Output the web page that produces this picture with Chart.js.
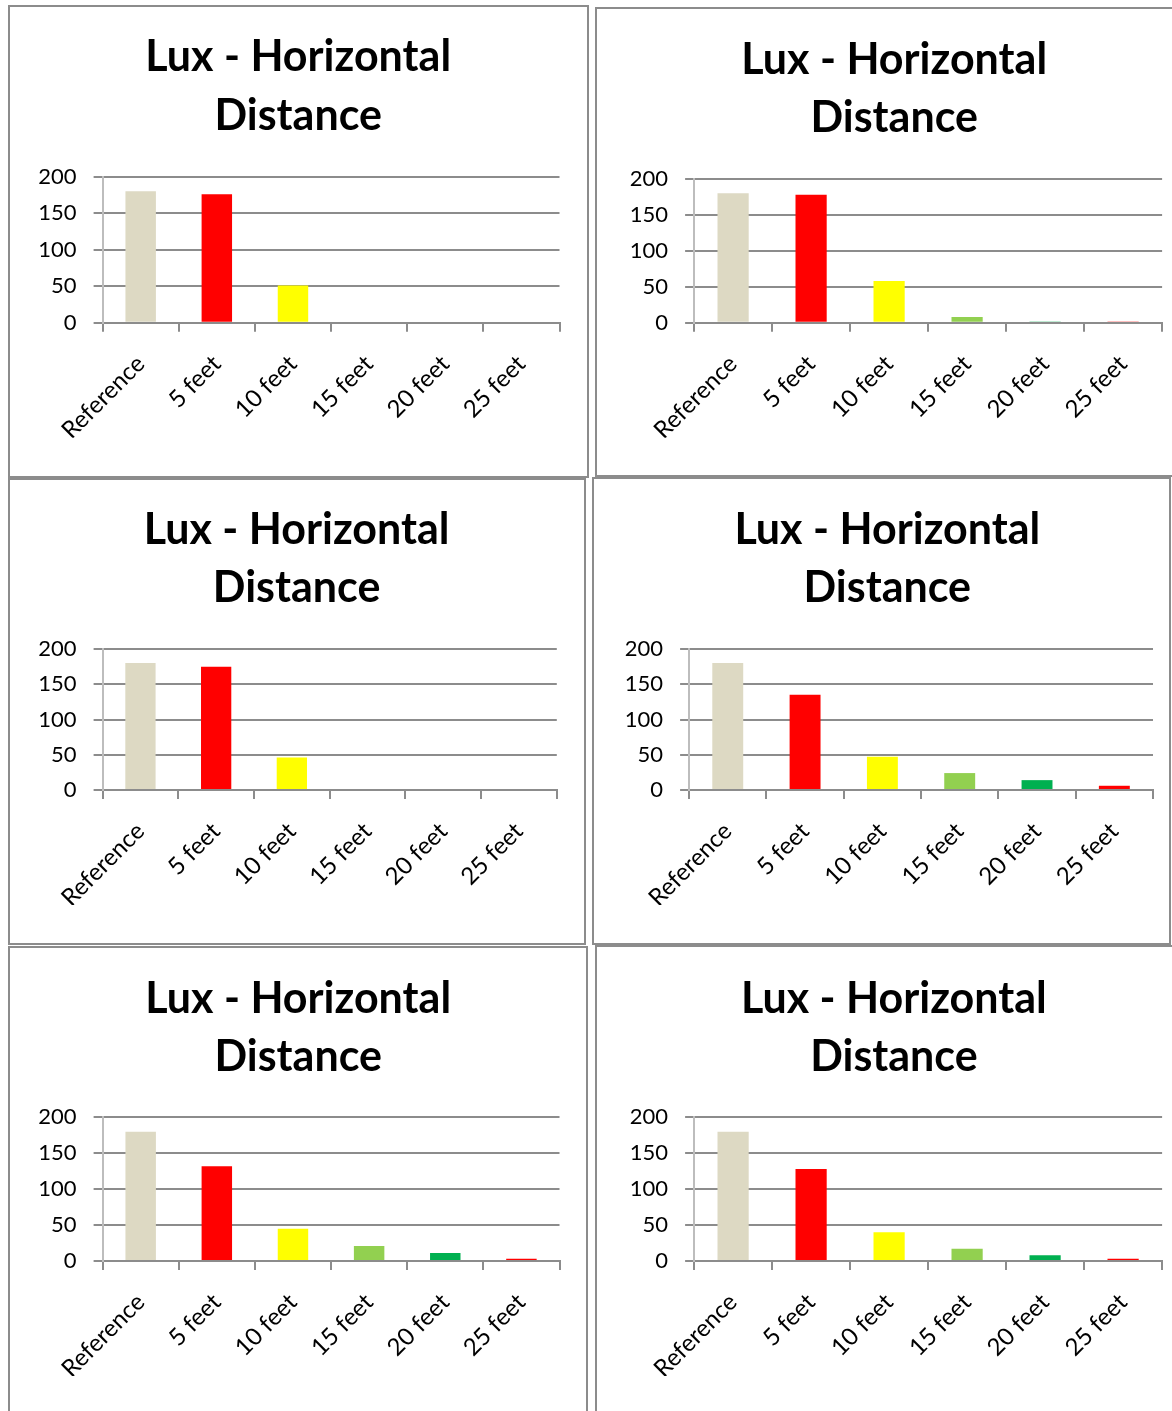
<!DOCTYPE html>
<html>
<head>
<meta charset="utf-8">
<script src="https://cdn.jsdelivr.net/npm/chart.js@4.4.1/dist/chart.umd.min.js"></script>
<style>
html, body { margin:0; padding:0; background:#fff; width:1172px; height:1411px; overflow:hidden; position:relative; }
.panel { position:absolute; box-sizing:border-box; border:2px solid #8c8c8c; background:#fff; }
canvas { position:absolute; }
</style>
</head>
<body>
<script>
// ---- data ----
const categories = ['Reference', '5 feet', '10 feet', '15 feet', '20 feet', '25 feet'];
const chart1Values = [180, 176, 51, 0, 0, 0];
const chart2Values = [180, 178, 58, 8, 1, 1];
const chart3Values = [180, 175, 46, 0, 0, 0];
const chart4Values = [180, 135, 47, 24, 14, 6];
const chart5Values = [180, 132, 45, 21, 11, 3];
const chart6Values = [180, 128, 40, 17, 8, 3];
const titleLines = ['Lux - Horizontal', 'Distance'];
const yTickValues = [0, 50, 100, 150, 200];

// ---- styling / layout (kept apart from the data) ----
const barColours = ['#DDD9C3', '#FF0000', '#FFFF00', '#92D050', '#00B050', '#FF0000'];
const seriesList = [chart1Values, chart2Values, chart3Values, chart4Values, chart5Values, chart6Values];
// box: [left, top, right, bottom]; area: [left, top, right, bottom] of the plot; titleCx; capCentre of line 1
const panelLayout = [
  { box:[8, 5, 589, 478],      area:[102.6, 176.7, 559.5, 322.7],   titleCx:298.2, line1:55.9 },
  { box:[595, 7, 1180, 477],   area:[694.1, 179.0, 1162.1, 322.7],  titleCx:894.2, line1:58.3 },
  { box:[8, 478, 586, 945],    area:[102.6, 649.0, 556.8, 790.0],   titleCx:296.6, line1:528.3 },
  { box:[592, 477, 1171, 945], area:[689.1, 649.0, 1153.0, 790.0],  titleCx:887.3, line1:528.3 },
  { box:[8, 946, 588, 1420],   area:[102.6, 1117.3, 559.5, 1261.0], titleCx:298.2, line1:997.3 },
  { box:[595, 945, 1180, 1420],area:[694.1, 1117.3, 1162.1, 1261.0],titleCx:893.9, line1:997.3 }
];
const TITLE_SIZE = 43, TITLE_LH = 58.5, X_H = 115;
const gridCol = '#8c8c8c';

function build() {
  panelLayout.forEach((p, i) => {
    const [bl, bt, br, bb] = p.box;
    const W = br - bl, H = bb - bt;
    const div = document.createElement('div');
    div.className = 'panel';
    Object.assign(div.style, { left: bl + 'px', top: bt + 'px', width: W + 'px', height: H + 'px' });
    document.body.appendChild(div);

    const c = document.createElement('canvas');
    c.width = W; c.height = H;
    Object.assign(c.style, { left: bl + 'px', top: bt + 'px', width: W + 'px', height: H + 'px' });
    document.body.appendChild(c);

    const aL = p.area[0] - bl, aT = p.area[1] - bt, aR = p.area[2] - bl, aB = p.area[3] - bt;
    const tc = p.titleCx - bl;
    const padR = W - aR;
    const padL = 2 * tc - aR;
    const yW = aL - padL;
    const padT = (p.line1 + 1.6 - bt) - TITLE_LH / 2;
    const titlePadB = aT - padT - 2 * TITLE_LH;
    const padB = H - aB - X_H;

    new Chart(c, {
      type: 'bar',
      data: {
        labels: categories,
        datasets: [{
          data: seriesList[i],
          backgroundColor: barColours,
          borderWidth: 0,
          categoryPercentage: 1,
          barPercentage: 0.4
        }]
      },
      options: {
        responsive: false,
        animation: false,
        devicePixelRatio: 1,
        layout: { padding: { left: padL, right: padR, top: padT, bottom: padB } },
        plugins: {
          legend: { display: false },
          tooltip: { enabled: false },
          title: {
            display: true,
            text: titleLines,
            color: '#000',
            font: { family: 'Lato', weight: 'bold', size: TITLE_SIZE, lineHeight: TITLE_LH / TITLE_SIZE },
            padding: { top: 0, bottom: titlePadB }
          }
        },
        scales: {
          x: {
            offset: true,
            grid: { offset: true, drawOnChartArea: false, drawTicks: true, tickLength: 9, color: gridCol, lineWidth: 2 },
            border: { color: gridCol, width: 2 },
            ticks: { autoSkip: false, maxRotation: 45, minRotation: 45, padding: 18, color: '#000',
                     font: { family: 'Lato', size: 24 } },
            afterFit: s => { s.height = X_H; }
          },
          y: {
            min: yTickValues[0],
            max: yTickValues[yTickValues.length - 1],
            afterBuildTicks: s => { s.ticks = yTickValues.map(v => ({ value: v })); },
            ticks: { padding: 17, color: '#000', font: { family: 'Lato', size: 22 } },
            grid: { color: gridCol, lineWidth: 2, tickLength: 9 },
            border: { color: '#bdbdbd', width: 2 },
            afterFit: s => { s.width = yW; }
          }
        }
      }
    });
  });
}

if (document.fonts && document.fonts.load) {
  Promise.all([document.fonts.load('bold 43px Lato'), document.fonts.load('24px Lato'), document.fonts.load('22px Lato')]).then(build, build);
} else {
  build();
}
</script>
</body>
</html>
